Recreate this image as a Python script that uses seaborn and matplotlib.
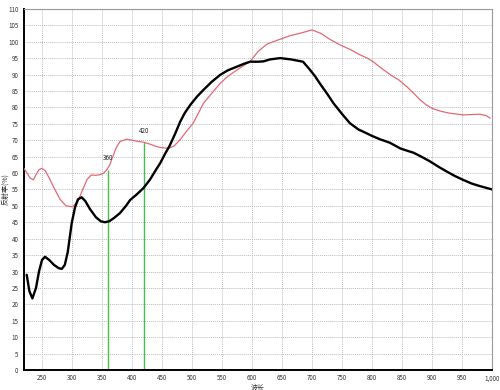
import matplotlib
matplotlib.use("Agg")
import matplotlib.pyplot as plt
import seaborn as sns
import pandas as pd
from matplotlib.ticker import FuncFormatter

black_wl = [224.5, 229, 234, 240, 245, 250, 255, 262, 270, 278, 283, 288, 293, 299.5, 305, 310, 316, 322, 330, 340,
            348, 355, 362, 370, 380, 390, 397, 408, 419, 430, 440, 447, 455, 463, 472, 480, 488, 497, 508, 519,
            533, 547, 560, 575, 587, 597, 610, 619, 630, 647, 665, 685, 695, 705, 713, 725, 736, 750, 763, 777,
            791, 800, 813, 830, 847, 860, 869, 883, 897, 910, 925, 938, 952, 966, 980, 990, 1000]
black_val = [29, 24, 21.8, 25, 30, 33.5, 34.5, 33.5, 32, 31, 30.8, 32, 36, 44.7, 49.5, 52, 52.6, 51.5, 49, 46.5,
             45.3, 45, 45.3, 46.3, 47.8, 50, 51.8, 53.5, 55.4, 58, 61, 63, 65.8, 68.4, 72, 75.5, 78.3, 80.7, 83.2, 85.3,
             87.8, 89.9, 91.3, 92.4, 93.3, 93.9, 93.9, 94, 94.6, 95, 94.6, 93.9, 91.8, 89.5, 87.3, 84.2, 81.2, 78, 75.2, 73.3,
             72.1, 71.3, 70.3, 69.2, 67.5, 66.7, 66.2, 64.9, 63.5, 62, 60.4, 59.1, 57.9, 56.8, 56, 55.5, 55]

red_wl = [220, 225, 230, 235.5, 240, 245, 249.5, 255, 262, 270, 280, 290, 301, 310, 318, 325, 332, 340, 347, 353,
          358, 363, 368, 374, 380, 391, 400, 410, 419, 430, 440, 447, 460, 470, 480, 490, 502, 510, 519, 533,
          547, 560, 575, 587, 597, 610, 624.5, 640, 663, 685, 700, 715, 730, 747, 765, 780, 792, 802, 815, 830,
          845, 858, 870, 880, 890, 900, 915, 930, 952, 965, 980, 990, 997]
red_val = [61.4, 60, 58.5, 57.9, 59.5, 61, 61.4, 60.8, 58.5, 55.5, 52, 50, 49.7, 51.5, 55, 58, 59.4, 59.3, 59.5, 60,
           61, 62.5, 65, 67.8, 69.6, 70.3, 70, 69.6, 69.4, 68.8, 68.1, 67.8, 67.5, 68.2, 70.1, 72.5, 75.2, 78, 81.2, 84.3,
           87.3, 89.5, 91.4, 92.8, 94, 97, 99.2, 100.3, 101.8, 102.8, 103.6, 102.5, 100.7, 99, 97.5, 96, 95, 93.9, 92, 90,
           88.3, 86.3, 84.2, 82.3, 80.8, 79.7, 78.8, 78.2, 77.7, 77.8, 77.9, 77.5, 76.7]

marker_wl = [360, 420]
marker_val = [61.0, 69.4]
marker_labels = ["360", "420"]

x_ticks = list(range(250, 1001, 50))
y_ticks = list(range(0, 111, 5))

sns.set_style("white")
plt.rcParams['font.family'] = ['Noto Sans CJK SC', 'DejaVu Sans']

fig = plt.figure(figsize=(5.0, 3.9), dpi=100)
ax = fig.add_axes([0.048, 0.0513, 0.936, 0.926])

df_b = pd.DataFrame({"wl": black_wl, "v": black_val})
df_r = pd.DataFrame({"wl": red_wl, "v": red_val})

sns.lineplot(data=df_r, x="wl", y="v", ax=ax, color="#e06a74", linewidth=0.9, sort=False, zorder=3)
sns.lineplot(data=df_b, x="wl", y="v", ax=ax, color="black", linewidth=1.7, sort=False, zorder=4)

for w, v, lab in zip(marker_wl, marker_val, marker_labels):
    ax.vlines(w, 0, v, color="#4cbb4c", linewidth=1.0, zorder=2)
    ax.text(w, v + 3.5, lab, ha="center", va="center", fontsize=4.5, color="#222222")

ax.set_xlim(220, 1000)
ax.set_ylim(0, 110)
ax.set_xticks(x_ticks)
ax.set_yticks(y_ticks)
ax.xaxis.set_major_formatter(FuncFormatter(lambda x, p: f"{int(x):,}"))
ax.tick_params(axis="both", labelsize=4.5, colors="#333333", length=2, width=0.5, pad=2)
ax.tick_params(axis="x", pad=1)
ax.tick_params(axis="both", direction="out")
ax.grid(True, color="#bdbdbd", linestyle=(0, (1, 1)), linewidth=0.7)
ax.set_axisbelow(True)

for s in ["top", "right"]:
    ax.spines[s].set_color("#999999")
    ax.spines[s].set_linewidth(0.8)
for s in ["left", "bottom"]:
    ax.spines[s].set_color("black")
    ax.spines[s].set_linewidth(1.4)

ax.set_xlabel("波长", fontsize=5, color="#333333", va="center")
ax.xaxis.set_label_coords(0.5, -0.047)
ax.set_ylabel("反射率(%)", fontsize=5, color="#333333", va="center")
ax.yaxis.set_label_coords(-0.04, 0.5)

fig.savefig("out.png", dpi=100)
